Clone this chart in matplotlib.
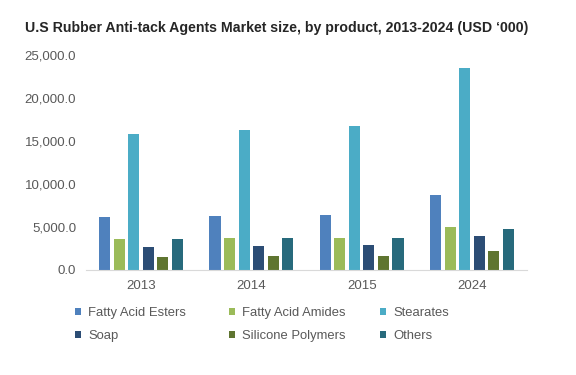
import matplotlib
matplotlib.use("Agg")
import matplotlib.pyplot as plt
import numpy as np
from matplotlib.ticker import FuncFormatter

years = ["2013", "2014", "2015", "2024"]
series_names = ["Fatty Acid Esters", "Fatty Acid Amides", "Stearates",
                "Soap", "Silicone Polymers", "Others"]
fatty_acid_esters = [6150, 6300, 6420, 8710]
fatty_acid_amides = [3580, 3700, 3700, 4980]
stearates = [15790, 16300, 16800, 23450]
soap = [2680, 2800, 2950, 3970]
silicone_polymers = [1520, 1670, 1650, 2180]
others = [3580, 3700, 3700, 4750]
values = [fatty_acid_esters, fatty_acid_amides, stearates, soap, silicone_polymers, others]
colors = ["#4f81bd", "#9bbb59", "#4bacc6", "#2c4d75", "#5f7530", "#276a7c"]

plt.rcParams['font.family'] = ['Liberation Sans', 'DejaVu Sans']

fig = plt.figure(figsize=(5.76, 3.75), dpi=100)
ax = fig.add_axes([86/576, 1 - 270/375, (527-86)/576, (270-55)/375])

x = np.arange(len(years))
pitch = 0.132
width = 0.10
for i, (name, vals, c) in enumerate(zip(series_names, values, colors)):
    ax.bar(x + (i - 2.5) * pitch, vals, width=width, color=c, label=name)

ax.set_xlim(-0.5, 3.5)
ax.set_ylim(0, 25000)
ax.set_yticks(np.arange(0, 25001, 5000))
ax.yaxis.set_major_formatter(FuncFormatter(lambda v, p: f"{v:,.1f}"))
ax.set_xticks(x)
ax.set_xticklabels(years)
for s in ["top", "right", "left"]:
    ax.spines[s].set_visible(False)
ax.spines["bottom"].set_color("#d9d9d9")
ax.tick_params(axis="both", length=0, labelsize=9.5, colors="#595959")
ax.tick_params(axis="y", pad=7)
ax.tick_params(axis="x", pad=7)

fig.text(25/576, 1 - 28/375, "U.S Rubber Anti-tack Agents Market size, by product, 2013-2024 (USD \u2018000)",
         fontsize=10.2, fontweight="bold", color="#262626", va="center", ha="left")

handles, labels = ax.get_legend_handles_labels()
columns = [(0, 3), (1, 4), (2, 5)]
col_x = [75, 229, 380]
for (a, b), cx in zip(columns, col_x):
    leg = fig.legend([handles[a], handles[b]], [labels[a], labels[b]],
                     ncol=1, loc="upper left", bbox_to_anchor=(cx/576, 1 - 307/375),
                     frameon=False, fontsize=9.4, handlelength=0.45, handleheight=0.45,
                     handletextpad=0.55, labelspacing=0.85,
                     borderaxespad=0, borderpad=0)
    for t in leg.get_texts():
        t.set_color("#595959")

fig.savefig("out.png", dpi=100, facecolor="white")
